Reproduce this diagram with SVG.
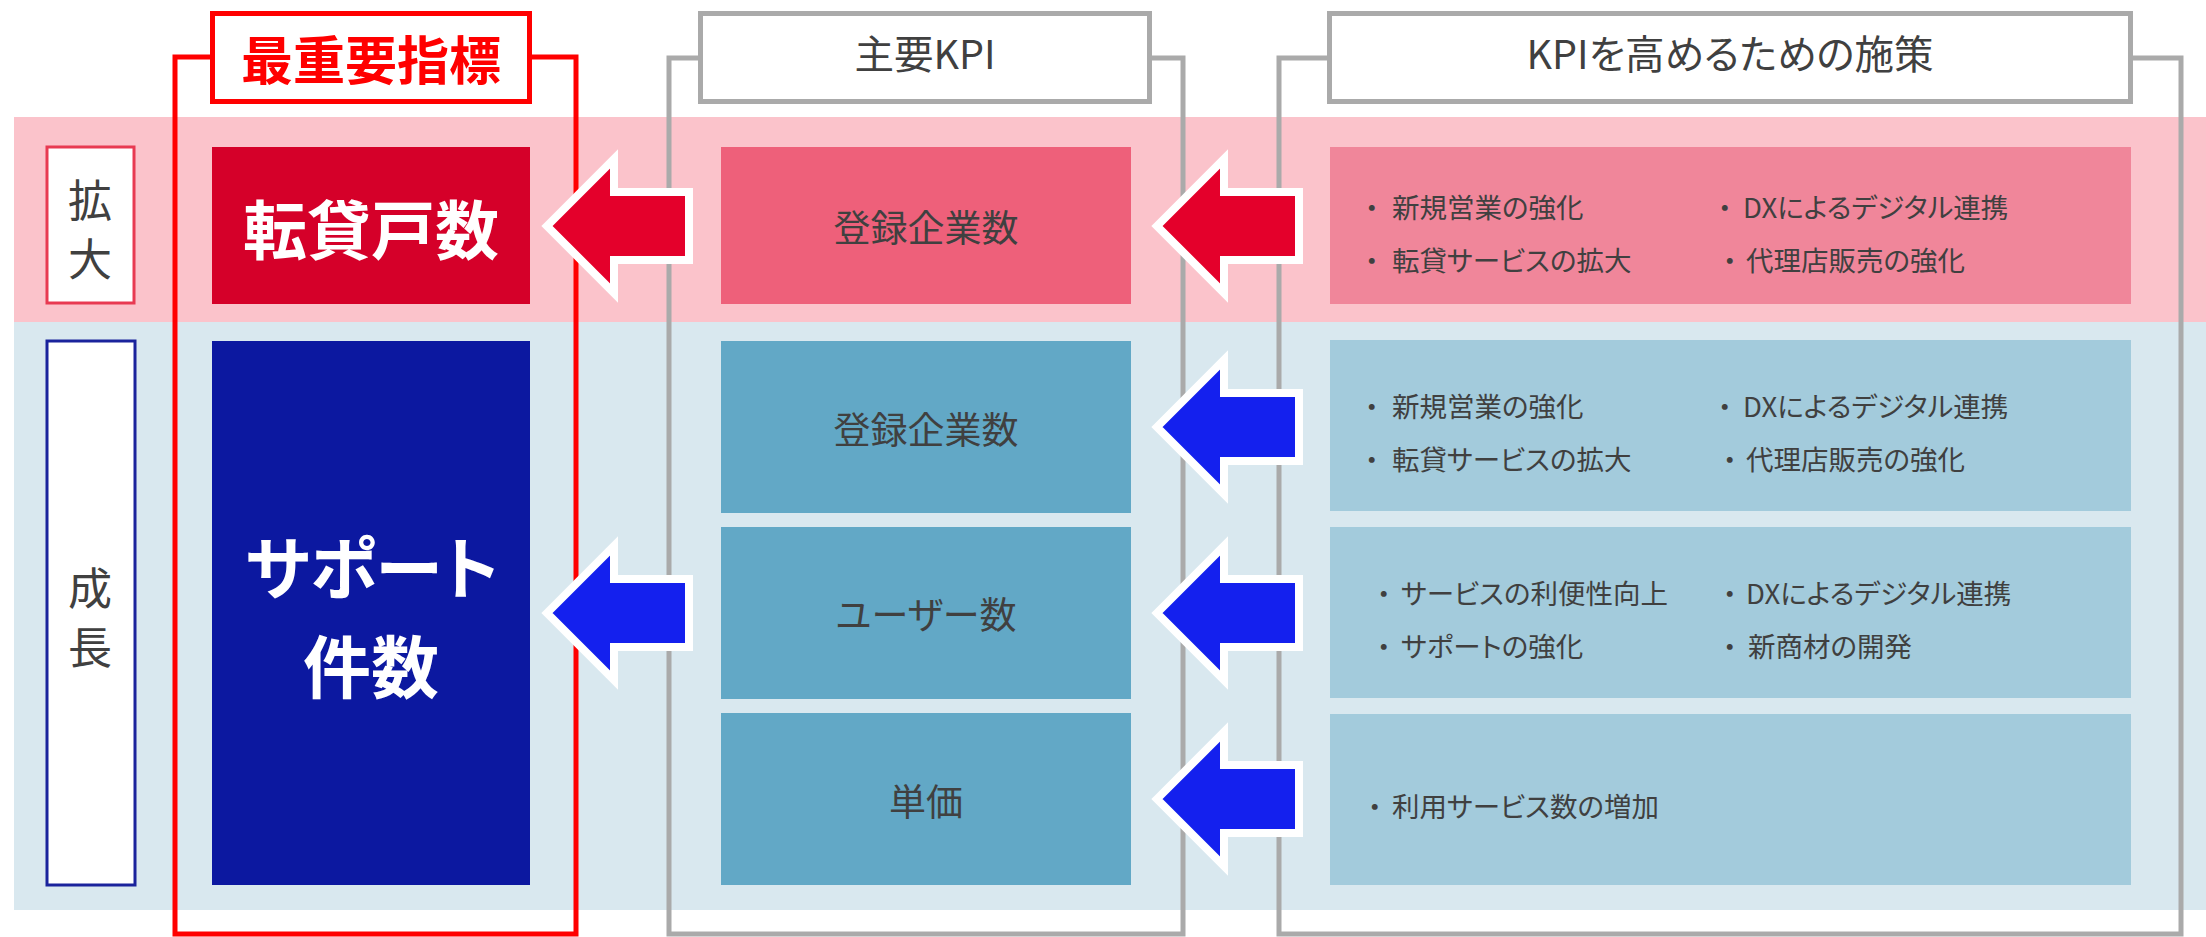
<svg xmlns="http://www.w3.org/2000/svg" xmlns:xlink="http://www.w3.org/1999/xlink" width="2206" height="937" viewBox="0 0 2206 937">
<defs>
<style>
text { font-family: "Noto Sans CJK JP", "Noto Sans", sans-serif; font-feature-settings: "palt"; dominant-baseline: central; }
.bandP { fill: #fbc3cb; }
.bandB { fill: #d9e8ef; }
.frameR { fill: none; stroke: #ff0000; stroke-width: 5; }
.frameG { fill: none; stroke: #aaaaaa; stroke-width: 5; }
.titleR { fill: #ffffff; stroke: #ff0000; stroke-width: 5; }
.titleG { fill: #ffffff; stroke: #aaaaaa; stroke-width: 5; }
.lbl { fill: #404040; font-size: 44px; text-anchor: middle; }
.hdr { fill: #404040; font-size: 39.5px; text-anchor: middle; }
.kpi { fill: #404040; font-size: 37px; text-anchor: middle; }
.pol { fill: #404040; font-size: 27.5px; }
.b { font-feature-settings: normal; }
.big { fill: #ffffff; font-weight: 700; text-anchor: middle; }
.arrow { stroke: #ffffff; stroke-width: 8; stroke-linejoin: miter; }
.red { fill: #e4002b; }
.blue { fill: #1420ee; }
</style>
<polygon id="arr" points="0,0 67,-67 67,-34 142,-34 142,34 67,34 67,67"/>
</defs>

<g id="bands">
<rect class="bandP" x="14" y="117" width="2192" height="205"/>
<rect class="bandB" x="14" y="322" width="2192" height="588"/>
</g>

<g id="frames">
<rect class="frameR" x="175" y="57" width="401" height="877"/>
<rect class="frameG" x="669" y="58" width="514" height="876"/>
<rect class="frameG" x="1279" y="58" width="902" height="876"/>
</g>

<g id="row-labels">
<g id="label-kakudai">
<rect x="47" y="147" width="87" height="156" fill="#ffffff" stroke="#e83a52" stroke-width="3"/>
<text class="lbl"><tspan x="90" y="198">拡</tspan><tspan x="90" y="257">大</tspan></text>
</g>
<g id="label-seicho">
<rect x="47" y="341" width="88" height="544" fill="#ffffff" stroke="#1a239c" stroke-width="3"/>
<text class="lbl"><tspan x="90" y="586">成</tspan><tspan x="90" y="645">長</tspan></text>
</g>
</g>

<g id="nodes">
<g id="top-tenkai">
<rect x="212" y="147" width="318" height="157" fill="#d50029"/>
<text class="big" x="371" y="226" font-size="64">転貸戸数</text>
</g>
<g id="top-support">
<rect x="212" y="341" width="318" height="544" fill="#0c18a0"/>
<text class="big" font-size="68"><tspan x="372" y="564">サポート</tspan><tspan x="371" y="663">件数</tspan></text>
</g>
<g id="kpi-1">
<rect x="721" y="147" width="410" height="157" fill="#ee607a"/>
<text class="kpi" x="926" y="226">登録企業数</text>
</g>
<g id="kpi-2">
<rect x="721" y="341" width="410" height="172" fill="#62a8c6"/>
<text class="kpi" x="926" y="428">登録企業数</text>
</g>
<g id="kpi-3">
<rect x="721" y="527" width="410" height="172" fill="#62a8c6"/>
<text class="kpi" x="926" y="613">ユーザー数</text>
</g>
<g id="kpi-4">
<rect x="721" y="713" width="410" height="172" fill="#62a8c6"/>
<text class="kpi" x="926" y="800">単価</text>
</g>
<g id="policy-1">
<rect x="1330" y="147" width="801" height="157" fill="#f0869a"/>
<text class="pol" y="206"><tspan class="b" x="1358">・</tspan><tspan x="1392">新規営業の強化</tspan></text>
<text class="pol" y="259"><tspan class="b" x="1358">・</tspan><tspan x="1392">転貸サービスの拡大</tspan></text>
<text class="pol" y="206"><tspan class="b" x="1711">・</tspan><tspan x="1743">DXによるデジタル連携</tspan></text>
<text class="pol" y="259"><tspan class="b" x="1716">・</tspan><tspan x="1746">代理店販売の強化</tspan></text>
</g>
<g id="policy-2">
<rect x="1330" y="340" width="801" height="171" fill="#a3cbdc"/>
<text class="pol" y="405"><tspan class="b" x="1358">・</tspan><tspan x="1392">新規営業の強化</tspan></text>
<text class="pol" y="458"><tspan class="b" x="1358">・</tspan><tspan x="1392">転貸サービスの拡大</tspan></text>
<text class="pol" y="405"><tspan class="b" x="1711">・</tspan><tspan x="1743">DXによるデジタル連携</tspan></text>
<text class="pol" y="458"><tspan class="b" x="1716">・</tspan><tspan x="1746">代理店販売の強化</tspan></text>
</g>
<g id="policy-3">
<rect x="1330" y="527" width="801" height="171" fill="#a3cbdc"/>
<text class="pol" y="592"><tspan class="b" x="1370">・</tspan><tspan x="1401">サービスの利便性向上</tspan></text>
<text class="pol" y="645"><tspan class="b" x="1370">・</tspan><tspan x="1401">サポートの強化</tspan></text>
<text class="pol" y="592"><tspan class="b" x="1716">・</tspan><tspan x="1746">DXによるデジタル連携</tspan></text>
<text class="pol" y="645"><tspan class="b" x="1716">・</tspan><tspan x="1748">新商材の開発</tspan></text>
</g>
<g id="policy-4">
<rect x="1330" y="714" width="801" height="171" fill="#a3cbdc"/>
<text class="pol" y="805"><tspan class="b" x="1361">・</tspan><tspan x="1392">利用サービス数の増加</tspan></text>
</g>
</g>

<g id="connectors">
<use xlink:href="#arr" class="arrow red" transform="translate(547,226)"/>
<use xlink:href="#arr" class="arrow red" transform="translate(1157,226)"/>
<use xlink:href="#arr" class="arrow blue" transform="translate(547,613)"/>
<use xlink:href="#arr" class="arrow blue" transform="translate(1157,427)"/>
<use xlink:href="#arr" class="arrow blue" transform="translate(1157,613)"/>
<use xlink:href="#arr" class="arrow blue" transform="translate(1157,799)"/>
</g>

<g id="headers">
<g id="header-main">
<rect class="titleR" x="212.5" y="13.5" width="317" height="88"/>
<text x="371" y="57" font-size="52" font-weight="700" fill="#ff0000" text-anchor="middle">最重要指標</text>
</g>
<g id="header-kpi">
<rect class="titleG" x="700.5" y="13.5" width="449" height="88"/>
<text class="hdr" x="925" y="51">主要KPI</text>
</g>
<g id="header-policy">
<rect class="titleG" x="1329.5" y="13.5" width="801" height="88"/>
<text class="hdr" x="1730" y="51">KPIを高めるための施策</text>
</g>
</g>
</svg>
